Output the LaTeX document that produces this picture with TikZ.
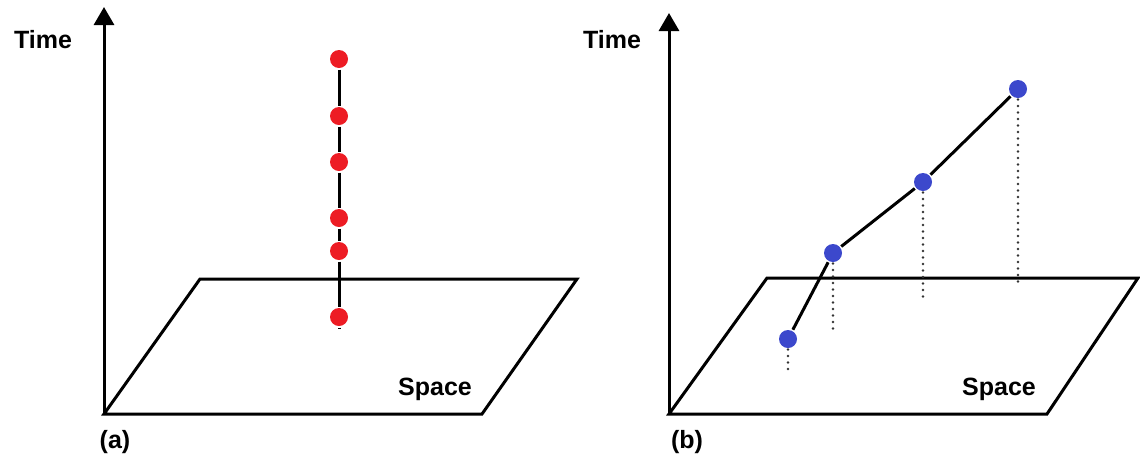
\documentclass[tikz,border=0pt]{standalone}
\usepackage{fontspec}
\setmainfont{Liberation Sans}
\usetikzlibrary{arrows.meta,positioning}
\definecolor{dotred}{RGB}{237,28,36}
\definecolor{dotblue}{RGB}{60,72,204}

\begin{document}
\begin{tikzpicture}[x=1pt, y=-1pt, >={Triangle[length=18pt,width=20pt]}, line width=3pt]
  \tikzstyle{lbl}=[font=\fontsize{25}{30}\selectfont\bfseries, inner sep=0pt, anchor=base]
  \tikzstyle{rdot}=[circle, fill=dotred, minimum size=18pt, inner sep=0pt]
  \tikzstyle{bdot}=[circle, fill=dotblue, minimum size=18pt, inner sep=0pt]
  \tikzstyle{proj}=[line width=2.8pt, line cap=round, dash pattern=on 0pt off 6.5pt, black!80]
  \useasboundingbox (0,0) rectangle (1140,456);

  % (a) fixed position
  \coordinate (oa) at (104,414);
  \coordinate (ta) at (104,7);
  \draw[->] (oa) -- (ta);
  \draw (oa) -- (482,414) -- (577,279) -- (200,279) -- cycle;
  \node[lbl] (timea) at (43,48) {Time};
  \node[lbl] (spacea) at (435,395) {Space};
  \node[lbl] (capa) at (115,448) {(a)};
  \node[rdot] (r1) at (339,59) {};
  \node[rdot] (r2) at (339,116) {};
  \node[rdot] (r3) at (339,162) {};
  \node[rdot] (r4) at (339,218) {};
  \node[rdot] (r5) at (339,251) {};
  \node[rdot] (r6) at (339,317) {};
  \coordinate (rt) at (339,328);
  \draw (r1) -- (r2) -- (r3) -- (r4) -- (r5) -- (r6) -- (rt);

  % (b) moving position
  \coordinate (ob) at (669,414);
  \coordinate (tb) at (669,13);
  \draw[->] (ob) -- (tb);
  \draw (ob) -- (1047,414) -- (1138,278) -- (767,278) -- cycle;
  \node[lbl] (timeb) at (612,48) {Time};
  \node[lbl] (spaceb) at (999,395) {Space};
  \node[lbl] (capb) at (687,448) {(b)};
  \node[bdot] (b1) at (788,339) {};
  \node[bdot] (b2) at (833,253) {};
  \node[bdot] (b3) at (923,182) {};
  \node[bdot] (b4) at (1018,89) {};
  \draw (b1) -- (b2) -- (b3) -- (b4);
  \coordinate (f1) at (788,374);
  \coordinate (f2) at (833,332);
  \coordinate (f3) at (923,298);
  \coordinate (f4) at (1018,285);
  \draw[proj] (b1.south) -- (f1);
  \draw[proj] (b2.south) -- (f2);
  \draw[proj] (b3.south) -- (f3);
  \draw[proj] (b4.south) -- (f4);
\end{tikzpicture}
\end{document}
